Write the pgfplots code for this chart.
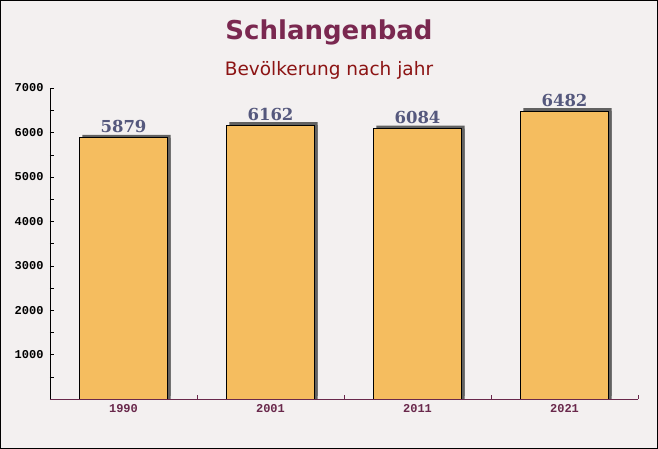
\documentclass[border=0pt]{standalone}
\usepackage{pgfplots}
\pgfplotsset{compat=1.18}
\usepackage{pgfplotstable}
\usepackage{fontspec}
\setmainfont{DejaVu Sans}
\newfontfamily\tickfont{Liberation Mono}
\newfontfamily\valfont{DejaVu Serif}

\definecolor{bgcol}{RGB}{243,240,240}
\definecolor{barcol}{RGB}{245,189,95}
\definecolor{titlecol}{RGB}{122,40,80}
\definecolor{subcol}{RGB}{140,20,20}
\definecolor{valcol}{RGB}{85,88,125}
\definecolor{xcol}{RGB}{105,40,75}

\pgfplotstableread{
x y
0 5879
1 6162
2 6084
3 6482
}\popdata

\begin{document}
\begin{tikzpicture}
  % background and frame
  \fill[bgcol] (0,0) rectangle (658pt,449pt);
  \draw[black, line width=1pt] (0.5pt,0.5pt) rectangle (657.5pt,448.5pt);

  \node[font=\bfseries\fontsize{26}{30}\selectfont, text=titlecol] at (329pt,417pt) {Schlangenbad};
  \node[font=\fontsize{18.5}{22}\selectfont, text=subcol] at (329pt,379pt) {Bevölkerung nach jahr};

  \begin{axis}[
      at={(50pt,50pt)}, anchor=south west,
      scale only axis,
      width=588pt, height=311pt,
      xmin=-0.5, xmax=3.5,
      ymin=0, ymax=7000,
      axis x line*=bottom,
      axis y line*=left,
      x axis line style={xcol},
      y axis line style={black},
      tick align=inside,
      ytick={1000,2000,...,7000},
      minor ytick={500,1500,...,6500},
      major tick length=4pt,
      minor tick length=4pt,
      ytick style={black},
      yticklabel style={font=\tickfont\bfseries\fontsize{12}{12}\selectfont, text=black, xshift=-3pt},
      /pgf/number format/1000 sep={},
      /pgf/number format/assume math mode=true,
      xtick={0.5,1.5,2.5,3.5},
      xticklabels={},
      xtick style={xcol},
      extra x ticks={0,1,2,3},
      extra x tick labels={1990,2001,2011,2021},
      extra x tick style={major tick length=0pt,
        ticklabel style={font=\tickfont\bfseries\fontsize{12}{12}\selectfont, text=xcol, yshift=-2pt}},
    ]
    % shadow (top and right side)
    \addplot[ybar, bar width=0.6, bar shift=0pt, fill=black!62, draw=none,
             xshift=3pt, yshift=3pt] table[x=x, y=y] {\popdata};
    \addplot[ybar, bar width=0.6, bar shift=0pt, fill=black!62, draw=none,
             xshift=3pt] table[x=x, y=y] {\popdata};
    % bars
    \addplot[ybar, bar width=0.6, bar shift=0pt, fill=barcol, draw=black, line width=0.7pt,
             nodes near coords,
             every node near coord/.append style={font=\valfont\bfseries\fontsize{16.5}{18}\selectfont,
               text=valcol, yshift=1pt}]
             table[x=x, y=y] {\popdata};
  \end{axis}
\end{tikzpicture}
\end{document}
